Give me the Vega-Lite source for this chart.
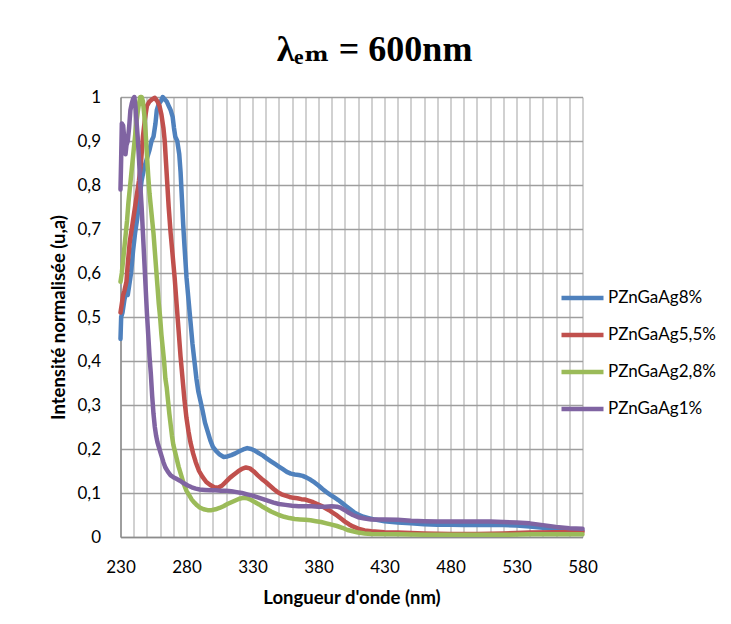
{
  "$schema": "https://vega.github.io/schema/vega-lite/v6.json",
  "width": 462,
  "height": 440,
  "autosize": {"type": "none"},
  "padding": {"left": 120.5, "top": 97, "right": 148.5, "bottom": 87},
  "background": "white",
  "title": {
    "text": "λₑₘ = 600nm",
    "font": "Liberation Serif, DejaVu Serif",
    "fontSize": 36,
    "fontWeight": "bold",
    "color": "#000000",
    "anchor": "middle",
    "baseline": "alphabetic",
    "dx": 23,
    "dy": 34,
    "offset": 25
  },
  "config": {"view": {"stroke": null}, "font": "Lato"},
  "data": {
    "values": [
      {"s": "PZnGaAg8%", "nm": 230, "v": 0.45},
      {"s": "PZnGaAg8%", "nm": 230.5, "v": 0.5},
      {"s": "PZnGaAg8%", "nm": 231.5, "v": 0.51},
      {"s": "PZnGaAg8%", "nm": 233, "v": 0.54},
      {"s": "PZnGaAg8%", "nm": 234.5, "v": 0.56},
      {"s": "PZnGaAg8%", "nm": 235.5, "v": 0.55},
      {"s": "PZnGaAg8%", "nm": 236.5, "v": 0.57},
      {"s": "PZnGaAg8%", "nm": 238, "v": 0.6},
      {"s": "PZnGaAg8%", "nm": 239.5, "v": 0.65},
      {"s": "PZnGaAg8%", "nm": 241, "v": 0.69},
      {"s": "PZnGaAg8%", "nm": 242.5, "v": 0.72},
      {"s": "PZnGaAg8%", "nm": 244, "v": 0.76},
      {"s": "PZnGaAg8%", "nm": 246, "v": 0.81},
      {"s": "PZnGaAg8%", "nm": 248, "v": 0.84},
      {"s": "PZnGaAg8%", "nm": 250, "v": 0.86},
      {"s": "PZnGaAg8%", "nm": 252, "v": 0.88},
      {"s": "PZnGaAg8%", "nm": 253.5, "v": 0.9},
      {"s": "PZnGaAg8%", "nm": 255, "v": 0.91},
      {"s": "PZnGaAg8%", "nm": 256.5, "v": 0.94},
      {"s": "PZnGaAg8%", "nm": 257.5, "v": 0.97},
      {"s": "PZnGaAg8%", "nm": 259, "v": 0.985},
      {"s": "PZnGaAg8%", "nm": 260.5, "v": 0.99},
      {"s": "PZnGaAg8%", "nm": 262, "v": 1},
      {"s": "PZnGaAg8%", "nm": 263.5, "v": 0.995},
      {"s": "PZnGaAg8%", "nm": 265, "v": 0.99},
      {"s": "PZnGaAg8%", "nm": 266.5, "v": 0.98},
      {"s": "PZnGaAg8%", "nm": 268, "v": 0.97},
      {"s": "PZnGaAg8%", "nm": 269.5, "v": 0.955},
      {"s": "PZnGaAg8%", "nm": 270.5, "v": 0.93},
      {"s": "PZnGaAg8%", "nm": 271.5, "v": 0.91},
      {"s": "PZnGaAg8%", "nm": 273, "v": 0.9},
      {"s": "PZnGaAg8%", "nm": 274.5, "v": 0.87},
      {"s": "PZnGaAg8%", "nm": 275.5, "v": 0.83},
      {"s": "PZnGaAg8%", "nm": 276.5, "v": 0.77},
      {"s": "PZnGaAg8%", "nm": 277.5, "v": 0.71},
      {"s": "PZnGaAg8%", "nm": 278.5, "v": 0.66},
      {"s": "PZnGaAg8%", "nm": 280, "v": 0.59},
      {"s": "PZnGaAg8%", "nm": 281.5, "v": 0.54},
      {"s": "PZnGaAg8%", "nm": 283, "v": 0.49},
      {"s": "PZnGaAg8%", "nm": 284.5, "v": 0.44},
      {"s": "PZnGaAg8%", "nm": 286, "v": 0.4},
      {"s": "PZnGaAg8%", "nm": 287.5, "v": 0.36},
      {"s": "PZnGaAg8%", "nm": 289, "v": 0.33},
      {"s": "PZnGaAg8%", "nm": 290.5, "v": 0.31},
      {"s": "PZnGaAg8%", "nm": 292, "v": 0.29},
      {"s": "PZnGaAg8%", "nm": 294, "v": 0.26},
      {"s": "PZnGaAg8%", "nm": 296, "v": 0.24},
      {"s": "PZnGaAg8%", "nm": 298, "v": 0.22},
      {"s": "PZnGaAg8%", "nm": 300, "v": 0.205},
      {"s": "PZnGaAg8%", "nm": 302.5, "v": 0.195},
      {"s": "PZnGaAg8%", "nm": 305, "v": 0.188},
      {"s": "PZnGaAg8%", "nm": 308, "v": 0.182},
      {"s": "PZnGaAg8%", "nm": 311, "v": 0.183},
      {"s": "PZnGaAg8%", "nm": 314, "v": 0.186},
      {"s": "PZnGaAg8%", "nm": 317, "v": 0.19},
      {"s": "PZnGaAg8%", "nm": 320, "v": 0.195},
      {"s": "PZnGaAg8%", "nm": 323, "v": 0.199},
      {"s": "PZnGaAg8%", "nm": 326, "v": 0.202},
      {"s": "PZnGaAg8%", "nm": 329, "v": 0.2},
      {"s": "PZnGaAg8%", "nm": 332, "v": 0.196},
      {"s": "PZnGaAg8%", "nm": 335, "v": 0.19},
      {"s": "PZnGaAg8%", "nm": 338, "v": 0.185},
      {"s": "PZnGaAg8%", "nm": 341, "v": 0.178},
      {"s": "PZnGaAg8%", "nm": 344, "v": 0.172},
      {"s": "PZnGaAg8%", "nm": 347, "v": 0.166},
      {"s": "PZnGaAg8%", "nm": 350, "v": 0.16},
      {"s": "PZnGaAg8%", "nm": 353, "v": 0.154},
      {"s": "PZnGaAg8%", "nm": 356, "v": 0.148},
      {"s": "PZnGaAg8%", "nm": 359, "v": 0.144},
      {"s": "PZnGaAg8%", "nm": 362, "v": 0.142},
      {"s": "PZnGaAg8%", "nm": 365, "v": 0.141},
      {"s": "PZnGaAg8%", "nm": 368, "v": 0.139},
      {"s": "PZnGaAg8%", "nm": 371, "v": 0.135},
      {"s": "PZnGaAg8%", "nm": 374, "v": 0.13},
      {"s": "PZnGaAg8%", "nm": 377, "v": 0.124},
      {"s": "PZnGaAg8%", "nm": 380, "v": 0.117},
      {"s": "PZnGaAg8%", "nm": 383, "v": 0.109},
      {"s": "PZnGaAg8%", "nm": 386, "v": 0.102},
      {"s": "PZnGaAg8%", "nm": 389, "v": 0.096},
      {"s": "PZnGaAg8%", "nm": 392, "v": 0.09},
      {"s": "PZnGaAg8%", "nm": 395, "v": 0.084},
      {"s": "PZnGaAg8%", "nm": 398, "v": 0.077},
      {"s": "PZnGaAg8%", "nm": 401, "v": 0.07},
      {"s": "PZnGaAg8%", "nm": 404, "v": 0.063},
      {"s": "PZnGaAg8%", "nm": 407, "v": 0.056},
      {"s": "PZnGaAg8%", "nm": 410, "v": 0.051},
      {"s": "PZnGaAg8%", "nm": 414, "v": 0.046},
      {"s": "PZnGaAg8%", "nm": 418, "v": 0.043},
      {"s": "PZnGaAg8%", "nm": 422, "v": 0.04},
      {"s": "PZnGaAg8%", "nm": 430, "v": 0.036},
      {"s": "PZnGaAg8%", "nm": 440, "v": 0.033},
      {"s": "PZnGaAg8%", "nm": 450, "v": 0.031},
      {"s": "PZnGaAg8%", "nm": 460, "v": 0.029},
      {"s": "PZnGaAg8%", "nm": 470, "v": 0.028},
      {"s": "PZnGaAg8%", "nm": 480, "v": 0.028},
      {"s": "PZnGaAg8%", "nm": 490, "v": 0.027},
      {"s": "PZnGaAg8%", "nm": 500, "v": 0.027},
      {"s": "PZnGaAg8%", "nm": 510, "v": 0.027},
      {"s": "PZnGaAg8%", "nm": 520, "v": 0.027},
      {"s": "PZnGaAg8%", "nm": 530, "v": 0.026},
      {"s": "PZnGaAg8%", "nm": 540, "v": 0.024},
      {"s": "PZnGaAg8%", "nm": 550, "v": 0.021},
      {"s": "PZnGaAg8%", "nm": 560, "v": 0.018},
      {"s": "PZnGaAg8%", "nm": 570, "v": 0.016},
      {"s": "PZnGaAg8%", "nm": 580, "v": 0.015},

      {"s": "PZnGaAg5,5%", "nm": 230, "v": 0.51},
      {"s": "PZnGaAg5,5%", "nm": 231, "v": 0.53},
      {"s": "PZnGaAg5,5%", "nm": 232, "v": 0.55},
      {"s": "PZnGaAg5,5%", "nm": 233, "v": 0.56},
      {"s": "PZnGaAg5,5%", "nm": 234.5, "v": 0.58},
      {"s": "PZnGaAg5,5%", "nm": 235.5, "v": 0.62},
      {"s": "PZnGaAg5,5%", "nm": 237, "v": 0.67},
      {"s": "PZnGaAg5,5%", "nm": 238.5, "v": 0.7},
      {"s": "PZnGaAg5,5%", "nm": 240, "v": 0.73},
      {"s": "PZnGaAg5,5%", "nm": 242, "v": 0.77},
      {"s": "PZnGaAg5,5%", "nm": 244, "v": 0.81},
      {"s": "PZnGaAg5,5%", "nm": 245.5, "v": 0.85},
      {"s": "PZnGaAg5,5%", "nm": 247, "v": 0.91},
      {"s": "PZnGaAg5,5%", "nm": 248.5, "v": 0.95},
      {"s": "PZnGaAg5,5%", "nm": 250, "v": 0.98},
      {"s": "PZnGaAg5,5%", "nm": 252, "v": 0.99},
      {"s": "PZnGaAg5,5%", "nm": 254, "v": 0.995},
      {"s": "PZnGaAg5,5%", "nm": 256, "v": 0.998},
      {"s": "PZnGaAg5,5%", "nm": 258, "v": 0.99},
      {"s": "PZnGaAg5,5%", "nm": 259.5, "v": 0.98},
      {"s": "PZnGaAg5,5%", "nm": 261, "v": 0.96},
      {"s": "PZnGaAg5,5%", "nm": 262.5, "v": 0.93},
      {"s": "PZnGaAg5,5%", "nm": 263.5, "v": 0.9},
      {"s": "PZnGaAg5,5%", "nm": 264.5, "v": 0.85},
      {"s": "PZnGaAg5,5%", "nm": 265.5, "v": 0.8},
      {"s": "PZnGaAg5,5%", "nm": 266.5, "v": 0.75},
      {"s": "PZnGaAg5,5%", "nm": 268, "v": 0.69},
      {"s": "PZnGaAg5,5%", "nm": 269.5, "v": 0.64},
      {"s": "PZnGaAg5,5%", "nm": 271, "v": 0.59},
      {"s": "PZnGaAg5,5%", "nm": 272.5, "v": 0.53},
      {"s": "PZnGaAg5,5%", "nm": 274, "v": 0.47},
      {"s": "PZnGaAg5,5%", "nm": 275.5, "v": 0.41},
      {"s": "PZnGaAg5,5%", "nm": 277, "v": 0.36},
      {"s": "PZnGaAg5,5%", "nm": 278.5, "v": 0.31},
      {"s": "PZnGaAg5,5%", "nm": 280, "v": 0.27},
      {"s": "PZnGaAg5,5%", "nm": 281.5, "v": 0.24},
      {"s": "PZnGaAg5,5%", "nm": 283, "v": 0.215},
      {"s": "PZnGaAg5,5%", "nm": 285, "v": 0.19},
      {"s": "PZnGaAg5,5%", "nm": 287, "v": 0.17},
      {"s": "PZnGaAg5,5%", "nm": 289.5, "v": 0.15},
      {"s": "PZnGaAg5,5%", "nm": 292, "v": 0.137},
      {"s": "PZnGaAg5,5%", "nm": 295, "v": 0.125},
      {"s": "PZnGaAg5,5%", "nm": 298, "v": 0.118},
      {"s": "PZnGaAg5,5%", "nm": 301, "v": 0.113},
      {"s": "PZnGaAg5,5%", "nm": 304, "v": 0.112},
      {"s": "PZnGaAg5,5%", "nm": 307, "v": 0.117},
      {"s": "PZnGaAg5,5%", "nm": 310, "v": 0.126},
      {"s": "PZnGaAg5,5%", "nm": 313, "v": 0.135},
      {"s": "PZnGaAg5,5%", "nm": 316, "v": 0.142},
      {"s": "PZnGaAg5,5%", "nm": 319, "v": 0.149},
      {"s": "PZnGaAg5,5%", "nm": 322, "v": 0.155},
      {"s": "PZnGaAg5,5%", "nm": 325, "v": 0.158},
      {"s": "PZnGaAg5,5%", "nm": 328, "v": 0.156},
      {"s": "PZnGaAg5,5%", "nm": 331, "v": 0.149},
      {"s": "PZnGaAg5,5%", "nm": 334, "v": 0.14},
      {"s": "PZnGaAg5,5%", "nm": 337, "v": 0.132},
      {"s": "PZnGaAg5,5%", "nm": 340, "v": 0.125},
      {"s": "PZnGaAg5,5%", "nm": 343, "v": 0.117},
      {"s": "PZnGaAg5,5%", "nm": 346, "v": 0.109},
      {"s": "PZnGaAg5,5%", "nm": 349, "v": 0.102},
      {"s": "PZnGaAg5,5%", "nm": 352, "v": 0.097},
      {"s": "PZnGaAg5,5%", "nm": 355, "v": 0.094},
      {"s": "PZnGaAg5,5%", "nm": 358, "v": 0.091},
      {"s": "PZnGaAg5,5%", "nm": 361, "v": 0.089},
      {"s": "PZnGaAg5,5%", "nm": 364, "v": 0.088},
      {"s": "PZnGaAg5,5%", "nm": 367, "v": 0.086},
      {"s": "PZnGaAg5,5%", "nm": 370, "v": 0.085},
      {"s": "PZnGaAg5,5%", "nm": 373, "v": 0.082},
      {"s": "PZnGaAg5,5%", "nm": 376, "v": 0.079},
      {"s": "PZnGaAg5,5%", "nm": 379, "v": 0.075},
      {"s": "PZnGaAg5,5%", "nm": 382, "v": 0.071},
      {"s": "PZnGaAg5,5%", "nm": 385, "v": 0.066},
      {"s": "PZnGaAg5,5%", "nm": 388, "v": 0.061},
      {"s": "PZnGaAg5,5%", "nm": 391, "v": 0.055},
      {"s": "PZnGaAg5,5%", "nm": 394, "v": 0.049},
      {"s": "PZnGaAg5,5%", "nm": 397, "v": 0.042},
      {"s": "PZnGaAg5,5%", "nm": 400, "v": 0.035},
      {"s": "PZnGaAg5,5%", "nm": 403, "v": 0.029},
      {"s": "PZnGaAg5,5%", "nm": 406, "v": 0.024},
      {"s": "PZnGaAg5,5%", "nm": 410, "v": 0.019},
      {"s": "PZnGaAg5,5%", "nm": 415, "v": 0.015},
      {"s": "PZnGaAg5,5%", "nm": 420, "v": 0.013},
      {"s": "PZnGaAg5,5%", "nm": 430, "v": 0.011},
      {"s": "PZnGaAg5,5%", "nm": 440, "v": 0.01},
      {"s": "PZnGaAg5,5%", "nm": 460, "v": 0.008},
      {"s": "PZnGaAg5,5%", "nm": 480, "v": 0.007},
      {"s": "PZnGaAg5,5%", "nm": 500, "v": 0.007},
      {"s": "PZnGaAg5,5%", "nm": 520, "v": 0.008},
      {"s": "PZnGaAg5,5%", "nm": 540, "v": 0.01},
      {"s": "PZnGaAg5,5%", "nm": 560, "v": 0.011},
      {"s": "PZnGaAg5,5%", "nm": 580, "v": 0.012},

      {"s": "PZnGaAg2,8%", "nm": 230, "v": 0.58},
      {"s": "PZnGaAg2,8%", "nm": 231, "v": 0.6},
      {"s": "PZnGaAg2,8%", "nm": 232, "v": 0.63},
      {"s": "PZnGaAg2,8%", "nm": 233, "v": 0.66},
      {"s": "PZnGaAg2,8%", "nm": 234, "v": 0.69},
      {"s": "PZnGaAg2,8%", "nm": 235, "v": 0.72},
      {"s": "PZnGaAg2,8%", "nm": 236, "v": 0.76},
      {"s": "PZnGaAg2,8%", "nm": 237, "v": 0.79},
      {"s": "PZnGaAg2,8%", "nm": 238, "v": 0.82},
      {"s": "PZnGaAg2,8%", "nm": 239, "v": 0.85},
      {"s": "PZnGaAg2,8%", "nm": 240, "v": 0.88},
      {"s": "PZnGaAg2,8%", "nm": 241, "v": 0.91},
      {"s": "PZnGaAg2,8%", "nm": 242, "v": 0.94},
      {"s": "PZnGaAg2,8%", "nm": 243, "v": 0.965},
      {"s": "PZnGaAg2,8%", "nm": 244, "v": 0.985},
      {"s": "PZnGaAg2,8%", "nm": 245, "v": 1},
      {"s": "PZnGaAg2,8%", "nm": 246, "v": 1},
      {"s": "PZnGaAg2,8%", "nm": 247, "v": 0.99},
      {"s": "PZnGaAg2,8%", "nm": 248, "v": 0.96},
      {"s": "PZnGaAg2,8%", "nm": 249, "v": 0.92},
      {"s": "PZnGaAg2,8%", "nm": 250, "v": 0.87},
      {"s": "PZnGaAg2,8%", "nm": 251, "v": 0.82},
      {"s": "PZnGaAg2,8%", "nm": 252, "v": 0.78},
      {"s": "PZnGaAg2,8%", "nm": 253, "v": 0.75},
      {"s": "PZnGaAg2,8%", "nm": 254, "v": 0.72},
      {"s": "PZnGaAg2,8%", "nm": 255, "v": 0.69},
      {"s": "PZnGaAg2,8%", "nm": 256, "v": 0.65},
      {"s": "PZnGaAg2,8%", "nm": 257, "v": 0.61},
      {"s": "PZnGaAg2,8%", "nm": 258, "v": 0.57},
      {"s": "PZnGaAg2,8%", "nm": 259, "v": 0.53},
      {"s": "PZnGaAg2,8%", "nm": 260, "v": 0.5},
      {"s": "PZnGaAg2,8%", "nm": 261, "v": 0.46},
      {"s": "PZnGaAg2,8%", "nm": 262, "v": 0.43},
      {"s": "PZnGaAg2,8%", "nm": 263, "v": 0.4},
      {"s": "PZnGaAg2,8%", "nm": 264, "v": 0.36},
      {"s": "PZnGaAg2,8%", "nm": 265, "v": 0.34},
      {"s": "PZnGaAg2,8%", "nm": 266, "v": 0.31},
      {"s": "PZnGaAg2,8%", "nm": 267, "v": 0.28},
      {"s": "PZnGaAg2,8%", "nm": 268, "v": 0.255},
      {"s": "PZnGaAg2,8%", "nm": 269, "v": 0.23},
      {"s": "PZnGaAg2,8%", "nm": 270, "v": 0.21},
      {"s": "PZnGaAg2,8%", "nm": 272, "v": 0.185},
      {"s": "PZnGaAg2,8%", "nm": 274, "v": 0.16},
      {"s": "PZnGaAg2,8%", "nm": 276, "v": 0.14},
      {"s": "PZnGaAg2,8%", "nm": 278, "v": 0.12},
      {"s": "PZnGaAg2,8%", "nm": 280, "v": 0.105},
      {"s": "PZnGaAg2,8%", "nm": 282, "v": 0.095},
      {"s": "PZnGaAg2,8%", "nm": 284, "v": 0.085},
      {"s": "PZnGaAg2,8%", "nm": 286, "v": 0.078},
      {"s": "PZnGaAg2,8%", "nm": 288, "v": 0.072},
      {"s": "PZnGaAg2,8%", "nm": 290, "v": 0.067},
      {"s": "PZnGaAg2,8%", "nm": 293, "v": 0.063},
      {"s": "PZnGaAg2,8%", "nm": 296, "v": 0.061},
      {"s": "PZnGaAg2,8%", "nm": 299, "v": 0.061},
      {"s": "PZnGaAg2,8%", "nm": 302, "v": 0.063},
      {"s": "PZnGaAg2,8%", "nm": 305, "v": 0.066},
      {"s": "PZnGaAg2,8%", "nm": 308, "v": 0.07},
      {"s": "PZnGaAg2,8%", "nm": 311, "v": 0.075},
      {"s": "PZnGaAg2,8%", "nm": 314, "v": 0.079},
      {"s": "PZnGaAg2,8%", "nm": 317, "v": 0.083},
      {"s": "PZnGaAg2,8%", "nm": 320, "v": 0.087},
      {"s": "PZnGaAg2,8%", "nm": 323, "v": 0.089},
      {"s": "PZnGaAg2,8%", "nm": 326, "v": 0.088},
      {"s": "PZnGaAg2,8%", "nm": 329, "v": 0.084},
      {"s": "PZnGaAg2,8%", "nm": 332, "v": 0.079},
      {"s": "PZnGaAg2,8%", "nm": 335, "v": 0.074},
      {"s": "PZnGaAg2,8%", "nm": 338, "v": 0.068},
      {"s": "PZnGaAg2,8%", "nm": 341, "v": 0.063},
      {"s": "PZnGaAg2,8%", "nm": 344, "v": 0.058},
      {"s": "PZnGaAg2,8%", "nm": 347, "v": 0.054},
      {"s": "PZnGaAg2,8%", "nm": 350, "v": 0.05},
      {"s": "PZnGaAg2,8%", "nm": 354, "v": 0.046},
      {"s": "PZnGaAg2,8%", "nm": 358, "v": 0.043},
      {"s": "PZnGaAg2,8%", "nm": 362, "v": 0.041},
      {"s": "PZnGaAg2,8%", "nm": 366, "v": 0.04},
      {"s": "PZnGaAg2,8%", "nm": 370, "v": 0.039},
      {"s": "PZnGaAg2,8%", "nm": 374, "v": 0.038},
      {"s": "PZnGaAg2,8%", "nm": 378, "v": 0.036},
      {"s": "PZnGaAg2,8%", "nm": 382, "v": 0.034},
      {"s": "PZnGaAg2,8%", "nm": 386, "v": 0.031},
      {"s": "PZnGaAg2,8%", "nm": 390, "v": 0.028},
      {"s": "PZnGaAg2,8%", "nm": 394, "v": 0.025},
      {"s": "PZnGaAg2,8%", "nm": 398, "v": 0.021},
      {"s": "PZnGaAg2,8%", "nm": 402, "v": 0.016},
      {"s": "PZnGaAg2,8%", "nm": 406, "v": 0.013},
      {"s": "PZnGaAg2,8%", "nm": 410, "v": 0.01},
      {"s": "PZnGaAg2,8%", "nm": 415, "v": 0.008},
      {"s": "PZnGaAg2,8%", "nm": 420, "v": 0.007},
      {"s": "PZnGaAg2,8%", "nm": 440, "v": 0.006},
      {"s": "PZnGaAg2,8%", "nm": 460, "v": 0.005},
      {"s": "PZnGaAg2,8%", "nm": 480, "v": 0.005},
      {"s": "PZnGaAg2,8%", "nm": 500, "v": 0.005},
      {"s": "PZnGaAg2,8%", "nm": 520, "v": 0.005},
      {"s": "PZnGaAg2,8%", "nm": 540, "v": 0.006},
      {"s": "PZnGaAg2,8%", "nm": 560, "v": 0.006},
      {"s": "PZnGaAg2,8%", "nm": 580, "v": 0.006},

      {"s": "PZnGaAg1%", "nm": 230, "v": 0.79},
      {"s": "PZnGaAg1%", "nm": 230.5, "v": 0.86},
      {"s": "PZnGaAg1%", "nm": 231, "v": 0.94},
      {"s": "PZnGaAg1%", "nm": 232, "v": 0.935},
      {"s": "PZnGaAg1%", "nm": 233, "v": 0.9},
      {"s": "PZnGaAg1%", "nm": 233.8, "v": 0.87},
      {"s": "PZnGaAg1%", "nm": 234.5, "v": 0.89},
      {"s": "PZnGaAg1%", "nm": 235.5, "v": 0.9},
      {"s": "PZnGaAg1%", "nm": 236.5, "v": 0.93},
      {"s": "PZnGaAg1%", "nm": 237.5, "v": 0.97},
      {"s": "PZnGaAg1%", "nm": 238.5, "v": 0.985},
      {"s": "PZnGaAg1%", "nm": 239.5, "v": 0.995},
      {"s": "PZnGaAg1%", "nm": 240.5, "v": 1},
      {"s": "PZnGaAg1%", "nm": 241.3, "v": 0.98},
      {"s": "PZnGaAg1%", "nm": 242, "v": 0.95},
      {"s": "PZnGaAg1%", "nm": 243, "v": 0.91},
      {"s": "PZnGaAg1%", "nm": 244, "v": 0.86},
      {"s": "PZnGaAg1%", "nm": 245, "v": 0.8},
      {"s": "PZnGaAg1%", "nm": 246, "v": 0.75},
      {"s": "PZnGaAg1%", "nm": 247, "v": 0.69},
      {"s": "PZnGaAg1%", "nm": 248, "v": 0.63},
      {"s": "PZnGaAg1%", "nm": 249, "v": 0.57},
      {"s": "PZnGaAg1%", "nm": 250, "v": 0.51},
      {"s": "PZnGaAg1%", "nm": 251, "v": 0.46},
      {"s": "PZnGaAg1%", "nm": 252, "v": 0.41},
      {"s": "PZnGaAg1%", "nm": 253, "v": 0.37},
      {"s": "PZnGaAg1%", "nm": 254, "v": 0.32},
      {"s": "PZnGaAg1%", "nm": 255, "v": 0.28},
      {"s": "PZnGaAg1%", "nm": 256, "v": 0.25},
      {"s": "PZnGaAg1%", "nm": 257, "v": 0.23},
      {"s": "PZnGaAg1%", "nm": 258, "v": 0.215},
      {"s": "PZnGaAg1%", "nm": 259.5, "v": 0.2},
      {"s": "PZnGaAg1%", "nm": 261, "v": 0.185},
      {"s": "PZnGaAg1%", "nm": 262.5, "v": 0.17},
      {"s": "PZnGaAg1%", "nm": 264, "v": 0.158},
      {"s": "PZnGaAg1%", "nm": 266, "v": 0.148},
      {"s": "PZnGaAg1%", "nm": 268, "v": 0.14},
      {"s": "PZnGaAg1%", "nm": 270, "v": 0.136},
      {"s": "PZnGaAg1%", "nm": 272, "v": 0.133},
      {"s": "PZnGaAg1%", "nm": 275, "v": 0.128},
      {"s": "PZnGaAg1%", "nm": 278, "v": 0.122},
      {"s": "PZnGaAg1%", "nm": 281, "v": 0.117},
      {"s": "PZnGaAg1%", "nm": 284, "v": 0.113},
      {"s": "PZnGaAg1%", "nm": 287, "v": 0.11},
      {"s": "PZnGaAg1%", "nm": 290, "v": 0.108},
      {"s": "PZnGaAg1%", "nm": 294, "v": 0.107},
      {"s": "PZnGaAg1%", "nm": 298, "v": 0.106},
      {"s": "PZnGaAg1%", "nm": 302, "v": 0.106},
      {"s": "PZnGaAg1%", "nm": 306, "v": 0.105},
      {"s": "PZnGaAg1%", "nm": 310, "v": 0.105},
      {"s": "PZnGaAg1%", "nm": 314, "v": 0.104},
      {"s": "PZnGaAg1%", "nm": 318, "v": 0.102},
      {"s": "PZnGaAg1%", "nm": 322, "v": 0.1},
      {"s": "PZnGaAg1%", "nm": 326, "v": 0.097},
      {"s": "PZnGaAg1%", "nm": 330, "v": 0.094},
      {"s": "PZnGaAg1%", "nm": 334, "v": 0.09},
      {"s": "PZnGaAg1%", "nm": 338, "v": 0.086},
      {"s": "PZnGaAg1%", "nm": 342, "v": 0.082},
      {"s": "PZnGaAg1%", "nm": 346, "v": 0.078},
      {"s": "PZnGaAg1%", "nm": 350, "v": 0.075},
      {"s": "PZnGaAg1%", "nm": 355, "v": 0.073},
      {"s": "PZnGaAg1%", "nm": 360, "v": 0.071},
      {"s": "PZnGaAg1%", "nm": 365, "v": 0.07},
      {"s": "PZnGaAg1%", "nm": 370, "v": 0.07},
      {"s": "PZnGaAg1%", "nm": 375, "v": 0.07},
      {"s": "PZnGaAg1%", "nm": 380, "v": 0.069},
      {"s": "PZnGaAg1%", "nm": 385, "v": 0.069},
      {"s": "PZnGaAg1%", "nm": 390, "v": 0.07},
      {"s": "PZnGaAg1%", "nm": 394, "v": 0.069},
      {"s": "PZnGaAg1%", "nm": 397, "v": 0.066},
      {"s": "PZnGaAg1%", "nm": 400, "v": 0.061},
      {"s": "PZnGaAg1%", "nm": 403, "v": 0.055},
      {"s": "PZnGaAg1%", "nm": 406, "v": 0.05},
      {"s": "PZnGaAg1%", "nm": 410, "v": 0.045},
      {"s": "PZnGaAg1%", "nm": 415, "v": 0.042},
      {"s": "PZnGaAg1%", "nm": 420, "v": 0.04},
      {"s": "PZnGaAg1%", "nm": 430, "v": 0.04},
      {"s": "PZnGaAg1%", "nm": 440, "v": 0.039},
      {"s": "PZnGaAg1%", "nm": 450, "v": 0.037},
      {"s": "PZnGaAg1%", "nm": 460, "v": 0.036},
      {"s": "PZnGaAg1%", "nm": 470, "v": 0.035},
      {"s": "PZnGaAg1%", "nm": 480, "v": 0.035},
      {"s": "PZnGaAg1%", "nm": 490, "v": 0.035},
      {"s": "PZnGaAg1%", "nm": 500, "v": 0.035},
      {"s": "PZnGaAg1%", "nm": 510, "v": 0.035},
      {"s": "PZnGaAg1%", "nm": 520, "v": 0.034},
      {"s": "PZnGaAg1%", "nm": 530, "v": 0.033},
      {"s": "PZnGaAg1%", "nm": 540, "v": 0.031},
      {"s": "PZnGaAg1%", "nm": 550, "v": 0.027},
      {"s": "PZnGaAg1%", "nm": 560, "v": 0.023},
      {"s": "PZnGaAg1%", "nm": 570, "v": 0.02},
      {"s": "PZnGaAg1%", "nm": 580, "v": 0.019}
    ]
  },
  "mark": {"type": "line", "strokeWidth": 4.5, "strokeJoin": "round", "strokeCap": "round"},
  "encoding": {
    "x": {
      "field": "nm",
      "type": "quantitative",
      "scale": {"domain": [230, 580], "nice": false, "zero": false},
      "axis": {
        "values": [230, 240, 250, 260, 270, 280, 290, 300, 310, 320, 330, 340, 350, 360, 370, 380, 390, 400, 410, 420, 430, 440, 450, 460, 470, 480, 490, 500, 510, 520, 530, 540, 550, 560, 570, 580],
        "format": "d",
        "labelExpr": "(datum.value - 230) % 50 === 0 ? datum.label : ''",
        "labelFlush": false,
        "labelOverlap": false,
        "labelFont": "Lato",
        "labelFontSize": 17,
        "labelColor": "#000000",
        "labelBaseline": "alphabetic",
        "labelPadding": 35,
        "ticks": false,
        "tickSize": 0,
        "grid": true,
        "gridColor": "#c2c2c2",
        "gridWidth": 1.5,
        "domainColor": "#8c8c8c",
        "domainWidth": 1.5,
        "title": "Longueur d'onde (nm)",
        "titleFont": "Lato",
        "titleFontSize": 18.5,
        "titleFontWeight": "bold",
        "titleColor": "#000000",
        "titleBaseline": "alphabetic",
        "titleAlign": "center",
        "titleX": 231,
        "titleY": 66
      }
    },
    "y": {
      "field": "v",
      "type": "quantitative",
      "scale": {"domain": [0, 1], "nice": false},
      "axis": {
        "values": [0, 0.1, 0.2, 0.3, 0.4, 0.5, 0.6, 0.7, 0.8, 0.9, 1],
        "labelExpr": "replace(format(datum.value, '.1~f'), '.', ',')",
        "labelFont": "Lato",
        "labelFontSize": 17,
        "labelColor": "#000000",
        "labelPadding": 20,
        "ticks": false,
        "tickSize": 0,
        "grid": true,
        "gridColor": "#9e9e9e",
        "gridWidth": 1.5,
        "domainColor": "#8c8c8c",
        "domainWidth": 1.5,
        "title": "Intensité normalisée (u,a)",
        "titleFont": "Lato",
        "titleFontSize": 18.5,
        "titleFontWeight": "bold",
        "titleColor": "#000000",
        "titleAngle": 270,
        "titleBaseline": "middle",
        "titleAlign": "center",
        "titleX": -62,
        "titleY": 220
      }
    },
    "color": {
      "field": "s",
      "type": "nominal",
      "scale": {
        "domain": ["PZnGaAg8%", "PZnGaAg5,5%", "PZnGaAg2,8%", "PZnGaAg1%"],
        "range": ["#4F81BD", "#C0504D", "#9BBB59", "#8064A2"]
      },
      "legend": {
        "orient": "none",
        "legendX": 438.5,
        "legendY": 191,
        "title": null,
        "padding": 0,
        "symbolType": "stroke",
        "symbolSize": 1764,
        "symbolStrokeWidth": 4.5,
        "labelFont": "Lato",
        "labelFontSize": 17,
        "labelColor": "#000000",
        "labelOffset": 2,
        "clipHeight": 20,
        "rowPadding": 17
      }
    }
  }
}
